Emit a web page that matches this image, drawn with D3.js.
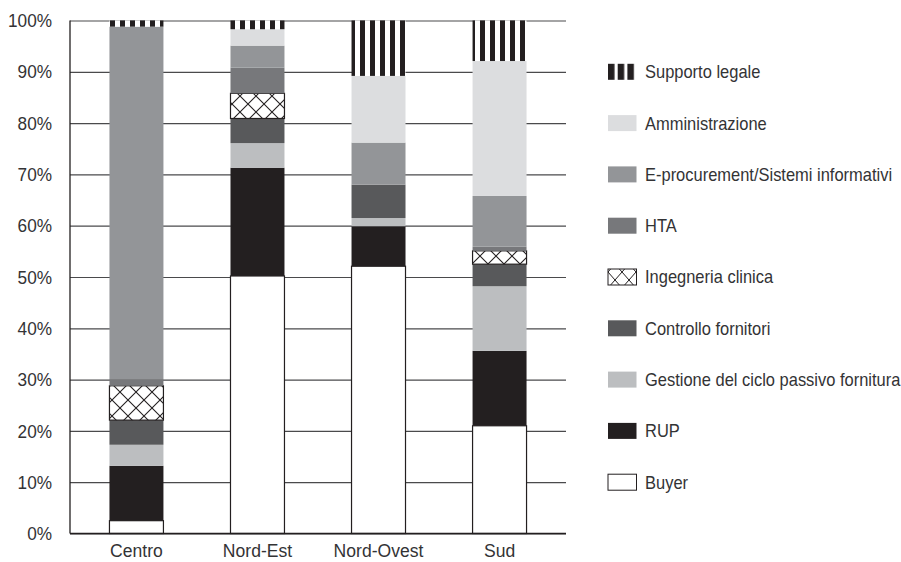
<!DOCTYPE html>
<html><head><meta charset="utf-8">
<script src="https://cdn.jsdelivr.net/npm/d3@7/dist/d3.min.js"></script>
<style>
html,body{margin:0;padding:0;background:#fff;}
text{font-family:"Liberation Sans",Arial,sans-serif;fill:#333335;}
</style></head>
<body><svg id="c" width="901" height="562"></svg>
<script>
const categories = ["Centro","Nord-Est","Nord-Ovest","Sud"];
const seriesNames = ["Buyer","RUP","Gestione del ciclo passivo fornitura","Controllo fornitori","Ingegneria clinica","HTA","E-procurement/Sistemi informativi","Amministrazione","Supporto legale"];
const buyer      = [2.5, 50.2, 52.1, 21.0];
const rup        = [10.7, 21.1, 7.8, 14.6];
const gestione   = [4.1, 4.8, 1.6, 12.6];
const controllo  = [4.8, 4.8, 6.5, 4.3];
const ingegneria = [6.7, 4.9, 0, 2.6];
const hta        = [1.3, 5.0, 0, 0.8];
const eproc      = [68.7, 4.3, 8.2, 9.9];
const amministr  = [0, 3.2, 13.0, 26.3];
const legale     = [1.2, 1.7, 10.8, 7.9];
const yTicks = [0,10,20,30,40,50,60,70,80,90,100];

const seriesValues = [buyer, rup, gestione, controllo, ingegneria, hta, eproc, amministr, legale];
const fills = ["#ffffff","#231f20","#bcbec0","#58595b","url(#hatch)","#77787b","#939598","#dcdddf","url(#stripes)"];
const strokes = ["#231f20",null,null,null,"#231f20",null,null,null,null];

const svg = d3.select("#c");
const defs = svg.append("defs");
const hp = defs.append("pattern").attr("id","hatch").attr("patternUnits","userSpaceOnUse")
  .attr("width",16).attr("height",16).attr("x",0).attr("y",0);
hp.append("rect").attr("width",16).attr("height",16).attr("fill","#fff");
hp.append("path").attr("d","M0,0L16,16M16,0L0,16").attr("stroke","#231f20").attr("stroke-width",1.1);
const sp = defs.append("pattern").attr("id","stripes").attr("patternUnits","userSpaceOnUse")
  .attr("width",10).attr("height",10);
sp.append("rect").attr("width",10).attr("height",10).attr("fill","#fff");
sp.append("rect").attr("width",5).attr("height",10).attr("fill","#231f20");
const hp2 = defs.append("pattern").attr("id","hatchL").attr("patternUnits","userSpaceOnUse")
  .attr("width",14).attr("height",16).attr("x",608);
hp2.append("rect").attr("width",14).attr("height",16).attr("fill","#fff");
hp2.append("path").attr("d","M0,0L14,16M14,0L0,16").attr("stroke","#231f20").attr("stroke-width",1);
const sp2 = defs.append("pattern").attr("id","stripesL").attr("patternUnits","userSpaceOnUse")
  .attr("width",9.7).attr("height",16).attr("x",608);
sp2.append("rect").attr("width",9.7).attr("height",16).attr("fill","#fff");
sp2.append("rect").attr("width",6.5).attr("height",16).attr("fill","#231f20");

const x0 = 70, x1 = 566, yTop = 20.5, yBot = 533.5;
const x = d3.scaleBand().domain(categories).range([x0,x1]).paddingInner(0.554).paddingOuter(0.326);
const y = d3.scaleLinear().domain([0,100]).range([yBot,yTop]);

// gridlines
const grid = d3.axisLeft(y).tickValues(yTicks).tickSize(-(x1-x0)).tickFormat("");
svg.append("g").attr("transform",`translate(${x0},0)`).call(grid)
  .call(g=>{g.select(".domain").remove();g.selectAll("line").attr("stroke","#4a4a4c").attr("stroke-width",1.2);});

// y labels
svg.append("g").selectAll("text").data(yTicks).join("text")
  .attr("transform",d=>`translate(52,${y(d)}) scale(0.93,1)`).attr("dy","0.36em").attr("text-anchor","end")
  .attr("font-size",18.5)
  .text(d=>d+"%");

// stacked bars
const rows = categories.map((c,i)=>{const o={cat:c};seriesNames.forEach((s,j)=>o[s]=seriesValues[j][i]);return o;});
const stack = d3.stack().keys(seriesNames)(rows);
stack.forEach((layer,j)=>{
  svg.append("g").selectAll("rect").data(layer.filter(d=>d[1]-d[0]>0)).join("rect")
    .attr("x",d=>x(d.data.cat)).attr("width",x.bandwidth())
    .attr("y",d=>y(d[1])).attr("height",d=>y(d[0])-y(d[1]))
    .attr("fill",fills[j])
    .attr("stroke",strokes[j]||"none").attr("stroke-width",strokes[j]?1.2:0);
});

// axes lines
svg.append("line").attr("x1",x0).attr("x2",x0).attr("y1",yTop).attr("y2",yBot).attr("stroke","#231f20").attr("stroke-width",1.3);
svg.append("line").attr("x1",x0).attr("x2",x1).attr("y1",yBot).attr("y2",yBot).attr("stroke","#231f20").attr("stroke-width",1.3);

// x labels
svg.append("g").selectAll("text").data(categories).join("text")
  .attr("transform",d=>`translate(${x(d)+x.bandwidth()/2},557) scale(0.95,1)`).attr("text-anchor","middle")
  .attr("font-size",18.5)
  .text(d=>d);

// legend (top to bottom: reversed order)
const legFills = ["#ffffff","#231f20","#bcbec0","#58595b","url(#hatchL)","#77787b","#939598","#dcdddf","url(#stripesL)"];
const leg = svg.append("g");
seriesNames.forEach((s,j)=>{
  const cy = y(10*(j+1));
  leg.append("rect").attr("x",608).attr("y",cy-8).attr("width",28.5).attr("height",16)
    .attr("fill",legFills[j]).attr("stroke",(j===0||j===4)?"#231f20":"none").attr("stroke-width",1);
  leg.append("text").attr("transform",`translate(645,${cy}) scale(0.915,1)`).attr("dy","0.36em")
    .attr("font-size",18).text(s);
});
</script></body></html>
